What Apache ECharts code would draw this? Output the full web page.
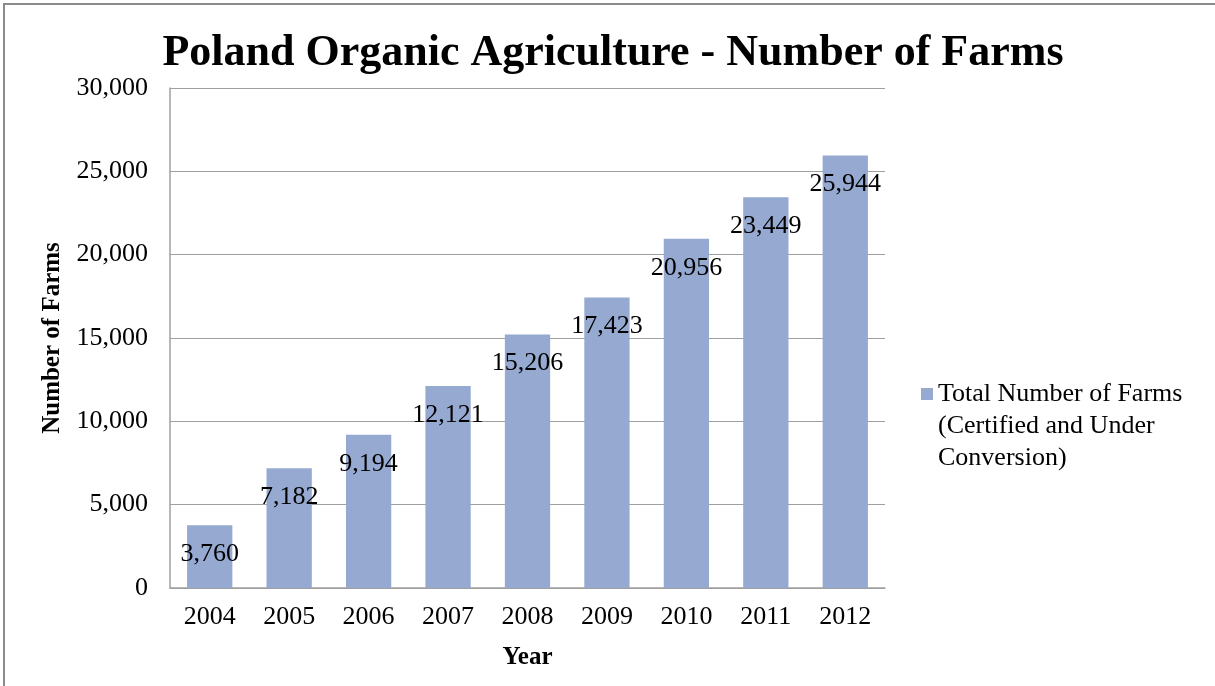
<!DOCTYPE html>
<html>
<head>
<meta charset="utf-8">
<script src="https://cdn.jsdelivr.net/npm/echarts@6/dist/echarts.min.js"></script>
<style>html,body{margin:0;padding:0;background:#fff}#c{width:1215px;height:686px}</style>
</head>
<body>
<div id="c"></div>
<script>
var years = ['2004','2005','2006','2007','2008','2009','2010','2011','2012'];
var farms = [3760, 7182, 9194, 12121, 15206, 17423, 20956, 23449, 25944];
var seriesName = 'Total Number of Farms (Certified and Under Conversion)';
var legendLines = ['Total Number of Farms', '(Certified and Under', 'Conversion)'];
var titleText = 'Poland Organic Agriculture - Number of Farms';
var FONT = "'Liberation Serif','Times New Roman',serif";

var chart = echarts.init(document.getElementById('c'));
chart.setOption({
  animation: false,
  backgroundColor: '#fff',
  textStyle: {fontFamily: FONT},
  title: {
    text: titleText,
    left: 608, top: 27, textAlign: 'center',
    textStyle: {fontFamily: FONT, fontWeight: 'bold', fontSize: 44, color: '#000'}
  },
  graphic: [{
    type: 'rect', silent: true,
    shape: {x: 4, y: 4, width: 1400, height: 900},
    style: {fill: 'none', stroke: '#8c8c8c', lineWidth: 2}
  }],
  legend: {
    left: 921, top: 314, orient: 'vertical', padding: 0,
    itemWidth: 12, itemHeight: 12, itemGap: 0,
    icon: 'rect',
    selectedMode: false,
    formatter: function () {
      return '{e| }\n{e| }\n' + legendLines.map(function (l) { return '{t|' + l + '}'; }).join('\n');
    },
    textStyle: {
      fontFamily: FONT, fontSize: 26, color: '#000', lineHeight: 32,
      rich: {
        e: {fontFamily: FONT, fontSize: 26, lineHeight: 32},
        t: {fontFamily: FONT, fontSize: 26, lineHeight: 32, color: '#000'}
      }
    },
    data: [seriesName]
  },
  grid: {left: 170, right: 330, top: 88, bottom: 98},
  xAxis: {
    type: 'category', data: years,
    name: 'Year', nameLocation: 'middle', nameGap: 57,
    nameTextStyle: {fontFamily: FONT, fontWeight: 'bold', fontSize: 25, color: '#000'},
    axisLine: {lineStyle: {color: '#a0a0a0', width: 1.5}},
    axisTick: {show: false},
    axisLabel: {fontFamily: FONT, fontSize: 26, color: '#000', margin: 16}
  },
  yAxis: {
    type: 'value', min: 0, max: 30000, interval: 5000,
    name: 'Number of Farms', nameLocation: 'middle', nameGap: 105,
    nameTextStyle: {fontFamily: FONT, fontWeight: 'bold', fontSize: 25, color: '#000'},
    axisLine: {show: true, lineStyle: {color: '#a0a0a0', width: 1.5}},
    axisTick: {show: false},
    splitLine: {lineStyle: {color: '#a0a0a0', width: 1.2}},
    axisLabel: {
      fontFamily: FONT, fontSize: 26, color: '#000', margin: 22,
      formatter: function (v) { return v.toLocaleString('en-US'); }
    }
  },
  series: [{
    name: seriesName,
    type: 'bar',
    data: farms,
    barWidth: '57%',
    itemStyle: {color: '#95a9d1'},
    label: {
      show: true, position: 'insideTop', distance: 16,
      fontFamily: FONT, fontSize: 26, color: '#000',
      formatter: function (p) { return p.value.toLocaleString('en-US'); }
    }
  }]
});
</script>
</body>
</html>
